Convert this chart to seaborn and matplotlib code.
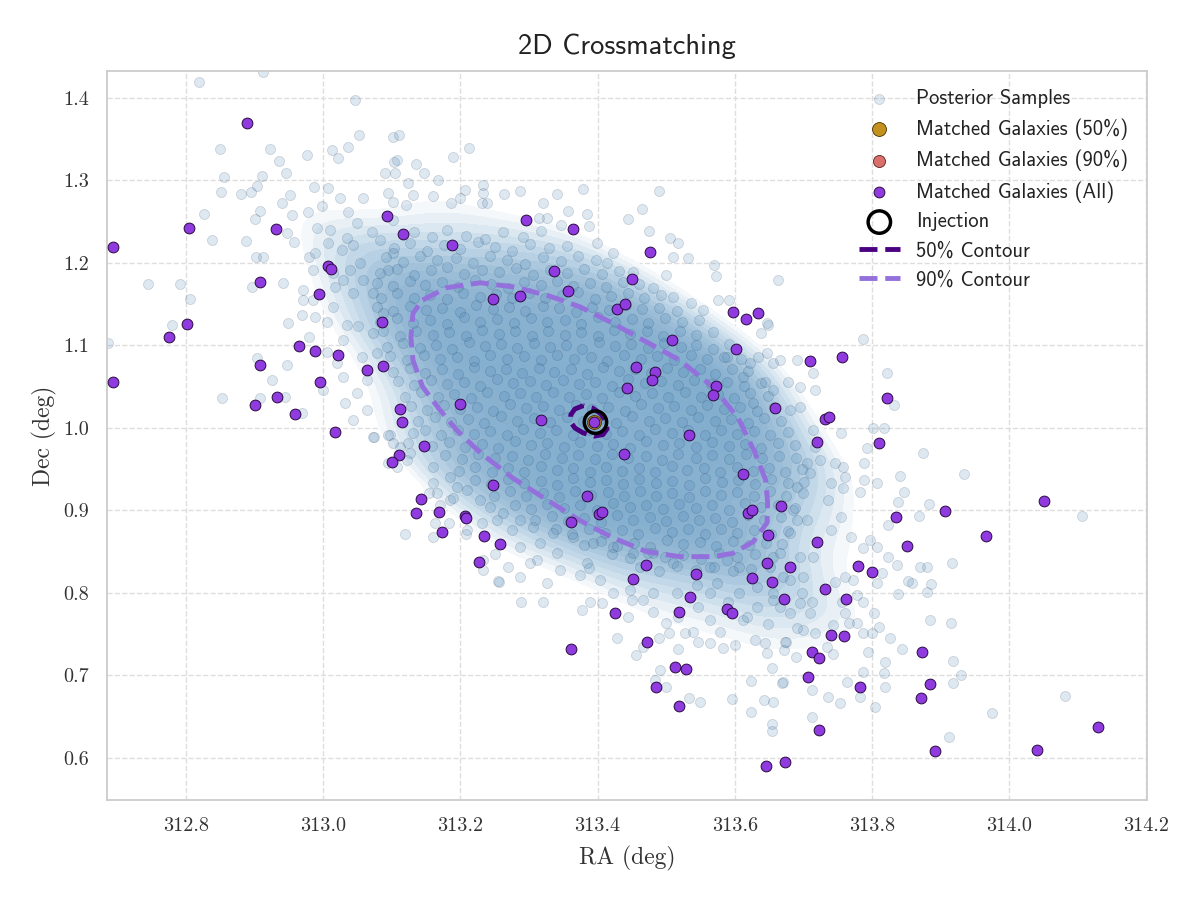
import matplotlib
matplotlib.use("Agg")
import matplotlib.pyplot as plt
import pandas as pd
import seaborn as sns
from matplotlib.colors import LinearSegmentedColormap

# ---------------- data ----------------
halo_left = [
    (312.819, 1.419), (312.912, 1.432), (313.046, 1.398), (312.850, 1.338), (312.922, 1.338),
    (312.855, 1.304), (312.911, 1.305), (312.851, 1.286), (312.880, 1.284), (312.895, 1.286),
    (312.904, 1.293), (312.936, 1.324), (312.946, 1.309), (312.952, 1.282), (312.976, 1.331),
    (312.987, 1.292), (313.007, 1.291), (313.013, 1.337), (313.022, 1.327), (313.037, 1.341),
    (313.052, 1.355), (312.826, 1.259), (312.838, 1.228), (312.888, 1.227), (312.908, 1.263),
    (312.901, 1.253), (312.940, 1.273), (312.954, 1.258), (312.978, 1.262), (312.998, 1.269),
    (313.024, 1.279), (313.058, 1.279), (313.036, 1.262), (313.049, 1.248), (312.947, 1.236),
    (312.991, 1.242), (313.010, 1.240), (313.035, 1.230), (313.071, 1.238), (312.957, 1.225),
    (313.007, 1.224), (313.027, 1.216), (313.043, 1.222), (312.745, 1.175), (312.791, 1.175),
    (312.806, 1.156), (312.780, 1.125), (312.686, 1.103), (312.902, 1.207), (312.912, 1.207),
    (312.896, 1.171), (312.941, 1.176), (312.979, 1.207), (312.988, 1.212), (312.985, 1.191),
    (312.971, 1.167), (312.971, 1.155), (312.985, 1.155), (313.014, 1.188), (313.017, 1.171),
    (313.029, 1.179), (313.043, 1.163), (313.039, 1.191), (313.054, 1.200), (313.058, 1.179),
    (313.073, 1.163), (313.014, 1.147), (312.988, 1.135), (313.005, 1.128), (313.035, 1.125),
    (313.051, 1.123), (312.949, 1.127), (312.969, 1.137), (312.903, 1.085), (312.947, 1.076),
    (312.925, 1.058), (312.852, 1.036), (312.908, 1.036), (312.944, 1.038), (312.969, 1.018),
    (312.979, 1.110), (313.005, 1.092), (313.029, 1.107), (313.020, 1.079), (313.029, 1.062),
    (313.000, 1.046), (313.032, 1.030), (313.049, 1.042), (313.043, 1.010), (313.064, 1.022),
    (313.073, 0.989), (313.064, 1.058), (313.078, 1.091), (313.056, 1.086), (313.073, 1.115),
    (313.087, 1.139), (313.094, 1.191), (313.102, 1.212), (313.083, 1.228), (313.102, 1.252),
    (313.094, 1.285), (313.105, 1.309), (313.108, 1.325), (313.102, 1.353),
]
halo_top = [
    (313.110, 1.355), (313.213, 1.339), (313.189, 1.328), (313.103, 1.322), (313.135, 1.320),
    (313.090, 1.309), (313.147, 1.309), (313.167, 1.301), (313.124, 1.297), (313.207, 1.289),
    (313.233, 1.295), (313.233, 1.285), (313.264, 1.284), (313.287, 1.287), (313.341, 1.284),
    (313.379, 1.290), (313.490, 1.287), (313.131, 1.282), (313.160, 1.281), (313.102, 1.274),
    (313.121, 1.270), (313.186, 1.273), (313.200, 1.279), (313.231, 1.273), (313.239, 1.273),
    (313.320, 1.273), (313.465, 1.265), (313.444, 1.253), (313.357, 1.263), (313.385, 1.259),
    (313.388, 1.245), (313.347, 1.246), (313.315, 1.255), (313.326, 1.255), (313.475, 1.239),
    (313.506, 1.230), (313.517, 1.224), (313.532, 1.206), (313.510, 1.207), (313.570, 1.198),
    (313.573, 1.184), (313.663, 1.179), (313.576, 1.155), (313.592, 1.155), (313.537, 1.151),
    (313.554, 1.143), (313.510, 1.159), (313.500, 1.185), (313.481, 1.170), (313.452, 1.189),
    (313.422, 1.212), (313.414, 1.200), (313.399, 1.224), (313.648, 1.125), (313.639, 1.115),
    (313.647, 1.091), (313.634, 1.086), (313.622, 1.079), (313.644, 1.056), (313.612, 1.062),
    (313.589, 1.086), (313.627, 1.030), (313.656, 1.046),
]
halo_right = [
    (313.787, 1.108), (313.822, 1.067), (313.832, 1.028), (313.874, 0.970), (313.934, 0.944),
    (313.801, 1.000), (313.817, 1.000), (313.793, 0.976), (313.788, 0.958), (313.788, 0.937),
    (313.808, 0.933), (313.782, 0.922), (313.841, 0.942), (313.847, 0.922), (313.838, 0.910),
    (313.869, 0.893), (313.883, 0.908), (313.823, 0.882), (314.107, 0.893), (313.917, 0.836),
    (313.880, 0.832), (313.870, 0.832), (313.886, 0.811), (313.853, 0.815), (313.859, 0.812),
    (313.838, 0.799), (313.880, 0.801), (313.823, 0.844), (313.836, 0.834), (313.884, 0.767),
    (313.915, 0.764), (313.844, 0.732), (313.918, 0.718), (313.930, 0.701), (313.918, 0.691),
    (313.819, 0.716), (313.817, 0.703), (313.819, 0.686), (313.804, 0.662), (313.783, 0.674),
    (313.975, 0.655), (314.081, 0.675), (313.912, 0.625), (313.803, 0.776), (313.811, 0.759),
    (313.826, 0.745), (313.794, 0.728), (313.787, 0.704), (313.764, 0.692), (313.754, 0.667),
    (313.736, 0.674), (313.713, 0.682), (313.713, 0.650), (313.654, 0.641), (313.671, 0.692),
    (313.656, 0.668), (313.643, 0.670), (313.743, 0.726), (313.734, 0.735), (313.766, 0.764),
    (313.743, 0.761), (313.699, 0.755), (313.717, 0.751), (313.675, 0.741), (313.672, 0.731),
    (313.690, 0.722), (313.654, 0.709), (313.647, 0.727), (313.787, 0.751), (313.800, 0.751),
    (313.778, 0.764), (313.761, 0.776), (313.756, 0.789), (313.778, 0.798), (313.787, 0.789),
    (313.710, 0.776), (313.698, 0.800), (313.712, 0.789), (313.746, 0.813), (313.772, 0.816),
    (313.761, 0.819), (313.807, 0.812), (313.815, 0.824), (313.797, 0.864), (313.808, 0.856),
    (313.787, 0.854), (313.770, 0.868), (313.755, 0.892), (313.740, 0.876), (313.758, 0.953),
    (313.746, 0.958), (313.761, 0.941), (313.758, 0.927), (313.740, 0.933), (313.736, 0.913),
    (313.755, 0.994), (313.724, 0.961), (313.717, 0.977), (313.714, 0.998), (313.717, 1.046),
    (313.714, 1.067), (313.691, 1.082), (313.666, 1.082), (313.647, 1.127), (313.656, 1.079),
    (313.678, 1.056), (313.695, 1.050), (313.695, 1.025), (313.681, 1.022), (313.705, 0.958),
    (313.691, 0.928), (313.710, 0.945), (313.685, 0.901), (313.705, 0.888), (313.680, 0.873),
    (313.714, 0.844), (313.695, 0.844), (313.699, 0.819), (313.670, 0.819), (313.695, 0.788),
    (313.666, 0.783), (313.656, 0.800), (313.644, 0.739),
]
halo_bottom = [
    (313.119, 0.871), (313.160, 0.868), (313.233, 0.840), (313.256, 0.813), (313.288, 0.789),
    (313.320, 0.789), (313.269, 0.832), (313.301, 0.836), (313.287, 0.819), (313.326, 0.812),
    (313.345, 0.828), (313.374, 0.822), (313.385, 0.836), (313.388, 0.830), (313.403, 0.816),
    (313.377, 0.779), (313.389, 0.789), (313.406, 0.788), (313.428, 0.745), (313.444, 0.771),
    (313.423, 0.800), (313.450, 0.791), (313.456, 0.725), (313.466, 0.735), (313.490, 0.745),
    (313.491, 0.707), (313.484, 0.694), (313.500, 0.686), (313.517, 0.732), (313.533, 0.673),
    (313.550, 0.668), (313.596, 0.672), (313.624, 0.656), (313.655, 0.633), (313.624, 0.693),
    (313.669, 0.691), (313.600, 0.737), (313.583, 0.733), (313.564, 0.739), (313.546, 0.741),
    (313.578, 0.753), (313.539, 0.753), (313.528, 0.752), (313.504, 0.752), (313.517, 0.771),
    (313.500, 0.764), (313.564, 0.767), (313.612, 0.767), (313.648, 0.762), (313.630, 0.743),
    (313.673, 0.741), (313.632, 0.783), (313.618, 0.771), (313.590, 0.789), (313.564, 0.800),
    (313.546, 0.783), (313.481, 0.777), (313.466, 0.791), (313.447, 0.804), (313.481, 0.800),
    (313.516, 0.800), (313.545, 0.810), (313.574, 0.812), (313.607, 0.800), (313.632, 0.807),
    (313.656, 0.791), (313.680, 0.776), (313.691, 0.758), (313.155, 0.921), (313.185, 0.913),
    (313.210, 0.876), (313.253, 0.888), (313.275, 0.876), (313.287, 0.856), (313.316, 0.861),
    (313.341, 0.848), (313.312, 0.840), (313.122, 0.961), (313.112, 0.977), (313.097, 0.992),
    (313.131, 0.994), (313.160, 0.953), (313.185, 0.941), (313.195, 0.928), (313.210, 0.925),
    (313.229, 0.913), (313.243, 0.904), (313.262, 0.897), (313.287, 0.888), (313.306, 0.880),
    (313.335, 0.873), (313.364, 0.868), (313.393, 0.861), (313.422, 0.856), (313.452, 0.848),
    (313.481, 0.848), (313.510, 0.836), (313.564, 0.832), (313.589, 0.840), (313.607, 0.832),
    (313.666, 0.848), (313.680, 0.816),
]
halo_lowleft = [
    (313.074, 0.989), (313.094, 0.992), (313.102, 0.982), (313.124, 0.982), (313.127, 0.970),
    (313.094, 0.958), (313.108, 0.953), (313.160, 0.933), (313.166, 0.921), (313.170, 0.907),
    (313.189, 0.915), (313.163, 0.885), (313.183, 0.885), (313.208, 0.871), (313.231, 0.885),
    (313.233, 0.828), (313.255, 0.815), (313.250, 0.847),
]

core_ra_rows = [
    [313.132, 313.158, 313.181, 313.209, 313.236, 313.262, 313.291, 313.318],
    [313.103, 313.127, 313.151, 313.176, 313.199, 313.226, 313.251, 313.276, 313.302, 313.329, 313.356],
    [313.092, 313.117, 313.141, 313.166, 313.193, 313.218, 313.243, 313.268, 313.294, 313.321, 313.347, 313.372, 313.398],
    [313.083, 313.108, 313.132, 313.157, 313.181, 313.206, 313.231, 313.256, 313.281, 313.306, 313.331, 313.356, 313.381, 313.406, 313.431],
    [313.079, 313.102, 313.126, 313.149, 313.173, 313.197, 313.221, 313.245, 313.269, 313.293, 313.317, 313.341, 313.365, 313.389, 313.413, 313.437, 313.461],
    [313.084, 313.108, 313.132, 313.156, 313.180, 313.204, 313.228, 313.252, 313.276, 313.300, 313.324, 313.348, 313.372, 313.396, 313.420, 313.444, 313.468, 313.492],
    [313.078, 313.102, 313.126, 313.150, 313.174, 313.199, 313.223, 313.247, 313.271, 313.295, 313.320, 313.344, 313.368, 313.392, 313.417, 313.441, 313.465, 313.490, 313.516],
    [313.083, 313.107, 313.131, 313.156, 313.180, 313.205, 313.229, 313.254, 313.278, 313.303, 313.327, 313.352, 313.376, 313.401, 313.425, 313.450, 313.474, 313.499, 313.523, 313.548],
    [313.088, 313.112, 313.136, 313.160, 313.184, 313.208, 313.232, 313.256, 313.280, 313.304, 313.328, 313.352, 313.376, 313.400, 313.424, 313.448, 313.472, 313.496, 313.520, 313.544, 313.569],
    [313.093, 313.117, 313.141, 313.164, 313.188, 313.212, 313.236, 313.259, 313.283, 313.307, 313.331, 313.354, 313.378, 313.402, 313.426, 313.449, 313.473, 313.497, 313.521, 313.544, 313.568, 313.592],
    [313.098, 313.122, 313.147, 313.171, 313.195, 313.220, 313.244, 313.268, 313.293, 313.317, 313.341, 313.366, 313.390, 313.414, 313.439, 313.463, 313.487, 313.512, 313.536, 313.560, 313.585, 313.609],
    [313.102, 313.126, 313.149, 313.173, 313.196, 313.220, 313.243, 313.267, 313.290, 313.314, 313.337, 313.361, 313.384, 313.408, 313.431, 313.455, 313.478, 313.502, 313.525, 313.549, 313.572, 313.596, 313.619],
    [313.109, 313.133, 313.157, 313.181, 313.205, 313.229, 313.253, 313.277, 313.301, 313.325, 313.349, 313.373, 313.397, 313.421, 313.445, 313.469, 313.493, 313.517, 313.541, 313.565, 313.589, 313.613, 313.638],
    [313.119, 313.143, 313.167, 313.191, 313.215, 313.239, 313.263, 313.287, 313.311, 313.335, 313.359, 313.383, 313.407, 313.431, 313.455, 313.479, 313.503, 313.527, 313.551, 313.575, 313.599, 313.623, 313.648],
    [313.128, 313.152, 313.176, 313.200, 313.224, 313.248, 313.272, 313.296, 313.320, 313.344, 313.368, 313.392, 313.416, 313.440, 313.464, 313.488, 313.512, 313.536, 313.560, 313.584, 313.608, 313.632, 313.657],
    [313.139, 313.163, 313.187, 313.211, 313.235, 313.259, 313.283, 313.307, 313.331, 313.355, 313.379, 313.403, 313.427, 313.451, 313.475, 313.499, 313.523, 313.547, 313.571, 313.595, 313.619, 313.643, 313.668],
    [313.148, 313.172, 313.196, 313.220, 313.244, 313.268, 313.292, 313.316, 313.340, 313.364, 313.388, 313.412, 313.436, 313.460, 313.484, 313.508, 313.532, 313.556, 313.580, 313.604, 313.628, 313.652, 313.677],
    [313.159, 313.183, 313.207, 313.231, 313.255, 313.279, 313.303, 313.327, 313.351, 313.375, 313.399, 313.423, 313.447, 313.471, 313.495, 313.519, 313.543, 313.567, 313.591, 313.615, 313.639, 313.663, 313.688],
    [313.178, 313.202, 313.226, 313.251, 313.275, 313.299, 313.324, 313.348, 313.372, 313.397, 313.421, 313.445, 313.470, 313.494, 313.518, 313.543, 313.567, 313.591, 313.616, 313.640, 313.664, 313.689],
    [313.198, 313.222, 313.246, 313.270, 313.293, 313.317, 313.341, 313.365, 313.389, 313.412, 313.436, 313.460, 313.484, 313.508, 313.531, 313.555, 313.579, 313.603, 313.627, 313.650, 313.674, 313.698],
    [313.221, 313.245, 313.269, 313.293, 313.317, 313.341, 313.365, 313.389, 313.413, 313.437, 313.461, 313.485, 313.509, 313.533, 313.557, 313.581, 313.605, 313.629, 313.653, 313.677, 313.701],
    [313.249, 313.273, 313.296, 313.320, 313.344, 313.367, 313.391, 313.415, 313.438, 313.462, 313.486, 313.509, 313.533, 313.557, 313.580, 313.604, 313.628, 313.651, 313.675, 313.699],
    [313.279, 313.303, 313.327, 313.351, 313.375, 313.399, 313.423, 313.447, 313.471, 313.495, 313.519, 313.543, 313.567, 313.591, 313.615, 313.639, 313.663, 313.688],
    [313.309, 313.333, 313.357, 313.381, 313.405, 313.429, 313.452, 313.476, 313.500, 313.524, 313.548, 313.572, 313.596, 313.620, 313.643, 313.667, 313.691],
    [313.339, 313.363, 313.387, 313.411, 313.435, 313.459, 313.484, 313.508, 313.532, 313.556, 313.580, 313.604, 313.628, 313.653, 313.678],
    [313.381, 313.405, 313.429, 313.453, 313.477, 313.501, 313.525, 313.549, 313.573, 313.597, 313.621, 313.645, 313.669],
    [313.421, 313.447, 313.473, 313.499, 313.525, 313.551, 313.577, 313.603, 313.629, 313.656],
    [313.462, 313.489, 313.516, 313.543, 313.570, 313.597, 313.624, 313.651],
]
core_dec_rows = [
    [1.238, 1.231, 1.240, 1.233, 1.229, 1.237, 1.232, 1.239],
    [1.218, 1.224, 1.215, 1.222, 1.217, 1.225, 1.219, 1.214, 1.223, 1.218, 1.221],
    [1.207, 1.201, 1.209, 1.203, 1.206, 1.200, 1.208, 1.204, 1.199, 1.207, 1.202, 1.209, 1.203],
    [1.188, 1.193, 1.186, 1.191, 1.195, 1.187, 1.192, 1.189, 1.194, 1.186, 1.191, 1.188, 1.193, 1.187, 1.190],
    [1.176, 1.172, 1.178, 1.173, 1.177, 1.171, 1.179, 1.174, 1.170, 1.177, 1.173, 1.178, 1.172, 1.176, 1.171, 1.177, 1.174],
    [1.158, 1.163, 1.157, 1.161, 1.156, 1.164, 1.159, 1.162, 1.157, 1.163, 1.158, 1.161, 1.165, 1.156, 1.160, 1.163, 1.157, 1.161],
    [1.147, 1.142, 1.148, 1.143, 1.146, 1.141, 1.149, 1.144, 1.147, 1.142, 1.148, 1.145, 1.141, 1.147, 1.143, 1.149, 1.144, 1.146, 1.142],
    [1.128, 1.133, 1.127, 1.131, 1.126, 1.134, 1.129, 1.132, 1.127, 1.133, 1.128, 1.131, 1.126, 1.134, 1.129, 1.132, 1.127, 1.133, 1.128, 1.131],
    [1.117, 1.112, 1.118, 1.113, 1.116, 1.111, 1.119, 1.114, 1.117, 1.112, 1.118, 1.113, 1.116, 1.111, 1.119, 1.114, 1.117, 1.112, 1.118, 1.113, 1.116],
    [1.098, 1.103, 1.097, 1.101, 1.096, 1.104, 1.099, 1.102, 1.097, 1.103, 1.098, 1.101, 1.096, 1.104, 1.099, 1.102, 1.097, 1.103, 1.098, 1.101, 1.096, 1.102],
    [1.087, 1.082, 1.088, 1.083, 1.086, 1.081, 1.089, 1.084, 1.087, 1.082, 1.088, 1.083, 1.086, 1.081, 1.089, 1.084, 1.087, 1.082, 1.088, 1.083, 1.086, 1.084],
    [1.068, 1.073, 1.067, 1.071, 1.066, 1.074, 1.069, 1.072, 1.067, 1.073, 1.068, 1.071, 1.066, 1.074, 1.069, 1.072, 1.067, 1.073, 1.068, 1.071, 1.066, 1.072, 1.069],
    [1.057, 1.052, 1.058, 1.053, 1.056, 1.051, 1.059, 1.054, 1.057, 1.052, 1.058, 1.053, 1.056, 1.051, 1.059, 1.054, 1.057, 1.052, 1.058, 1.053, 1.056, 1.051, 1.055],
    [1.038, 1.043, 1.037, 1.041, 1.036, 1.044, 1.039, 1.042, 1.037, 1.043, 1.038, 1.041, 1.036, 1.044, 1.039, 1.042, 1.037, 1.043, 1.038, 1.041, 1.036, 1.042, 1.039],
    [1.027, 1.022, 1.028, 1.023, 1.026, 1.021, 1.029, 1.024, 1.027, 1.022, 1.028, 1.023, 1.026, 1.021, 1.029, 1.024, 1.027, 1.022, 1.028, 1.023, 1.026, 1.021, 1.025],
    [1.008, 1.013, 1.007, 1.011, 1.006, 1.014, 1.009, 1.012, 1.007, 1.013, 1.008, 1.011, 1.006, 1.014, 1.009, 1.012, 1.007, 1.013, 1.008, 1.011, 1.006, 1.012, 1.009],
    [0.997, 0.992, 0.998, 0.993, 0.996, 0.991, 0.999, 0.994, 0.997, 0.992, 0.998, 0.993, 0.996, 0.991, 0.999, 0.994, 0.997, 0.992, 0.998, 0.993, 0.996, 0.991, 0.995],
    [0.978, 0.983, 0.977, 0.981, 0.976, 0.984, 0.979, 0.982, 0.977, 0.983, 0.978, 0.981, 0.976, 0.984, 0.979, 0.982, 0.977, 0.983, 0.978, 0.981, 0.976, 0.982, 0.979],
    [0.967, 0.962, 0.968, 0.963, 0.966, 0.961, 0.969, 0.964, 0.967, 0.962, 0.968, 0.963, 0.966, 0.961, 0.969, 0.964, 0.967, 0.962, 0.968, 0.963, 0.966, 0.964],
    [0.948, 0.953, 0.947, 0.951, 0.946, 0.954, 0.949, 0.952, 0.947, 0.953, 0.948, 0.951, 0.946, 0.954, 0.949, 0.952, 0.947, 0.953, 0.948, 0.951, 0.946, 0.950],
    [0.937, 0.932, 0.938, 0.933, 0.936, 0.931, 0.939, 0.934, 0.937, 0.932, 0.938, 0.933, 0.936, 0.931, 0.939, 0.934, 0.937, 0.932, 0.938, 0.933, 0.935],
    [0.918, 0.923, 0.917, 0.921, 0.916, 0.924, 0.919, 0.922, 0.917, 0.923, 0.918, 0.921, 0.916, 0.924, 0.919, 0.922, 0.917, 0.923, 0.918, 0.921],
    [0.907, 0.902, 0.908, 0.903, 0.906, 0.901, 0.909, 0.904, 0.907, 0.902, 0.908, 0.903, 0.906, 0.901, 0.909, 0.904, 0.907, 0.903],
    [0.888, 0.893, 0.887, 0.891, 0.886, 0.894, 0.889, 0.892, 0.887, 0.893, 0.888, 0.891, 0.886, 0.894, 0.889, 0.892, 0.888],
    [0.877, 0.872, 0.878, 0.873, 0.876, 0.871, 0.879, 0.874, 0.877, 0.872, 0.878, 0.873, 0.876, 0.871, 0.875],
    [0.858, 0.863, 0.857, 0.861, 0.856, 0.864, 0.859, 0.862, 0.857, 0.863, 0.858, 0.861, 0.859],
    [0.847, 0.842, 0.848, 0.843, 0.846, 0.841, 0.849, 0.844, 0.847, 0.843],
    [0.832, 0.827, 0.833, 0.828, 0.831, 0.826, 0.829, 0.831],
]

galaxies_all = [
    (312.694, 1.219), (312.694, 1.056), (312.804, 1.242), (312.801, 1.126), (312.775, 1.110),
    (312.889, 1.370), (312.931, 1.241), (312.908, 1.177), (312.965, 1.099), (312.988, 1.093),
    (312.994, 1.162), (313.007, 1.196), (313.011, 1.193), (313.022, 1.088), (313.064, 1.070),
    (313.087, 1.075), (313.086, 1.128), (313.093, 1.257), (312.908, 1.076), (312.901, 1.028),
    (312.933, 1.038), (312.959, 1.017), (312.995, 1.056), (313.017, 0.995),
    (313.116, 1.235), (313.188, 1.222), (313.296, 1.252), (313.364, 1.241), (313.336, 1.190),
    (313.357, 1.166), (313.248, 1.156), (313.287, 1.160), (313.476, 1.213), (313.450, 1.181),
    (313.428, 1.144), (313.440, 1.150), (313.597, 1.141), (313.616, 1.132), (313.634, 1.139),
    (313.508, 1.107), (313.602, 1.096), (313.456, 1.074), (313.484, 1.068), (313.479, 1.058),
    (313.443, 1.048), (313.573, 1.051), (313.568, 1.040), (313.659, 1.024), (313.112, 1.023),
    (313.115, 1.007), (313.199, 1.029), (313.318, 1.010), (313.533, 0.992), (313.395, 1.007),
    (313.438, 0.968), (313.147, 0.978), (313.110, 0.967), (313.100, 0.959), (313.612, 0.944),
    (313.248, 0.931), (313.385, 0.918), (313.143, 0.914), (313.135, 0.897), (313.169, 0.898),
    (313.207, 0.893), (313.208, 0.891), (313.173, 0.874), (313.234, 0.869), (313.258, 0.859),
    (313.361, 0.886), (313.402, 0.896), (313.406, 0.898), (313.619, 0.897), (313.625, 0.901),
    (313.667, 0.905), (313.648, 0.870), (313.227, 0.838), (313.471, 0.834), (313.543, 0.823),
    (313.452, 0.817), (313.647, 0.836), (313.680, 0.832), (313.625, 0.818), (313.654, 0.813),
    (313.672, 0.793), (313.535, 0.795), (313.519, 0.777), (313.425, 0.776), (313.589, 0.781),
    (313.596, 0.776), (313.472, 0.741), (313.361, 0.732), (313.513, 0.710), (313.529, 0.708),
    (313.485, 0.686), (313.519, 0.663), (313.645, 0.590), (313.673, 0.595),
    (313.710, 1.081), (313.756, 1.086), (313.822, 1.036), (313.731, 1.011), (313.737, 1.013),
    (313.720, 0.983), (313.810, 0.982), (314.051, 0.912), (313.906, 0.899), (313.835, 0.892),
    (313.966, 0.869), (313.720, 0.862), (313.851, 0.857), (313.780, 0.833), (313.800, 0.825),
    (313.731, 0.805), (313.762, 0.793), (313.740, 0.749), (313.759, 0.748), (313.713, 0.728),
    (313.723, 0.721), (313.873, 0.728), (313.707, 0.698), (313.783, 0.686), (313.884, 0.690),
    (313.871, 0.673), (313.723, 0.634), (314.129, 0.638), (313.892, 0.608), (314.041, 0.610),
]
galaxies_50 = [(313.395, 1.007)]
galaxies_90 = [(313.395, 1.007)]
injection = [(313.397, 1.007)]

contour50_ra = [313.379, 313.367, 313.361, 313.361, 313.367, 313.379, 313.395, 313.408,
                313.414, 313.412, 313.405, 313.393, 313.379]
contour50_dec = [1.027, 1.023, 1.016, 1.007, 1.000, 0.994, 0.990, 0.992,
                 0.999, 1.008, 1.017, 1.024, 1.027]
contour90_ra = [313.145, 313.180, 313.229, 313.277, 313.326, 313.374, 313.422, 313.472,
                313.520, 313.568, 313.605, 313.629, 313.645, 313.648, 313.647, 313.627,
                313.597, 313.568, 313.520, 313.472, 313.422, 313.374, 313.326, 313.277,
                313.229, 313.194, 313.170, 313.145, 313.131, 313.128, 313.131, 313.145]
contour90_dec = [1.155, 1.170, 1.176, 1.171, 1.161, 1.147, 1.127, 1.104,
                 1.082, 1.050, 1.012, 0.971, 0.937, 0.909, 0.885, 0.862,
                 0.848, 0.844, 0.844, 0.850, 0.867, 0.888, 0.913, 0.939,
                 0.970, 0.998, 1.022, 1.050, 1.082, 1.110, 1.139, 1.155]

x_ticks = [312.8, 313.0, 313.2, 313.4, 313.6, 313.8, 314.0, 314.2]
y_ticks = [0.6, 0.7, 0.8, 0.9, 1.0, 1.1, 1.2, 1.3, 1.4]

# ---------------- assemble tables ----------------
halo = halo_left + halo_top + halo_right + halo_bottom + halo_lowleft
core = [(r, d) for rr, dd in zip(core_ra_rows, core_dec_rows) for r, d in zip(rr, dd)]
samples = pd.DataFrame(halo + core, columns=["ra", "dec"])
gal_all = pd.DataFrame(galaxies_all, columns=["ra", "dec"])
gal50 = pd.DataFrame(galaxies_50, columns=["ra", "dec"])
gal90 = pd.DataFrame(galaxies_90, columns=["ra", "dec"])
inj = pd.DataFrame(injection, columns=["ra", "dec"])

# ---------------- style ----------------
sns.set_theme(style="whitegrid")
plt.rcParams["font.family"] = ["cmr10", "DejaVu Serif"]
plt.rcParams["axes.formatter.use_mathtext"] = True
plt.rcParams["mathtext.fontset"] = "cm"

fig = plt.figure(figsize=(12, 9.01), dpi=100)
ax = fig.add_axes([0.0892, 0.1121, 0.8666, 0.8091])

# opaque density shading standing in for the overlap of the many dense samples
shade_cmap = LinearSegmentedColormap.from_list(
    "shade", ["#fbfcfd", "#d2e2ee", "#a6c5dc", "#82adce"])
n_before = len(ax.collections)
sns.kdeplot(data=samples, x="ra", y="dec", fill=True, levels=20, thresh=0.3,
            cmap=shade_cmap, bw_adjust=0.9, ax=ax, zorder=1)
for coll in ax.collections[n_before:]:
    coll.set_edgecolor("face")
    coll.set_linewidth(0.5)

sns.scatterplot(data=samples, x="ra", y="dec", s=52, color="#4682b4", alpha=0.18,
                edgecolor="#1b3550", linewidth=0.6, label="Posterior Samples",
                ax=ax, zorder=2)

ax.plot(contour50_ra, contour50_dec, ls="--", color="indigo", lw=3.5,
        label="50% Contour", zorder=3)
ax.plot(contour90_ra, contour90_dec, ls="--", color="mediumpurple", lw=3.5,
        label="90% Contour", zorder=3)

sns.scatterplot(data=gal90, x="ra", y="dec", s=75, color="#d9706c",
                edgecolor="#5a2020", linewidth=0.6, label="Matched Galaxies (90%)",
                ax=ax, zorder=4)
sns.scatterplot(data=gal50, x="ra", y="dec", s=100, color="#c4911f",
                edgecolor="#4a3000", linewidth=0.6, label="Matched Galaxies (50%)",
                ax=ax, zorder=5)
sns.scatterplot(data=gal_all, x="ra", y="dec", s=60, color="#8f3be0",
                edgecolor="#2a0a40", linewidth=0.7, label="Matched Galaxies (All)",
                ax=ax, zorder=6)
sns.scatterplot(data=inj, x="ra", y="dec", s=260, facecolor="none",
                edgecolor="black", linewidth=2.5, label="Injection", ax=ax, zorder=7)

ax.set_xlim(312.685, 314.201)
ax.set_ylim(0.549, 1.4327)
ax.set_xticks(x_ticks)
ax.set_xticklabels([f"{t:.1f}" for t in x_ticks])
ax.set_yticks(y_ticks)
ax.set_yticklabels([f"{t:.1f}" for t in y_ticks])
ax.tick_params(labelsize=14.5, colors="#333333", length=0)
ax.tick_params(axis="x", pad=12)
ax.tick_params(axis="y", pad=13)
ax.set_axisbelow(True)
ax.grid(True, ls="--", color="#dedede", lw=1.0)
for sp in ax.spines.values():
    sp.set_color("#cccccc")
    sp.set_linewidth(1.3)

ax.set_xlabel("RA (deg)", fontsize=17, color="#333333", labelpad=8)
ax.set_ylabel("Dec (deg)", fontsize=17, color="#333333", labelpad=4.5)
ax.set_title("2D Crossmatching", fontsize=20.5, family="cmss10", color="#222222", pad=12)

handles, labels = ax.get_legend_handles_labels()
order = ["Posterior Samples", "Matched Galaxies (50%)", "Matched Galaxies (90%)",
         "Matched Galaxies (All)", "Injection", "50% Contour", "90% Contour"]
hmap = dict(zip(labels, handles))
leg = ax.legend([hmap[k] for k in order], order, loc="upper right", frameon=False,
                prop={"family": "cmss10", "size": 14.8}, labelspacing=0.48,
                handlelength=2.0, borderaxespad=0.5)
for t in leg.get_texts():
    t.set_color("#222222")

fig.savefig("out.png", dpi=100)
